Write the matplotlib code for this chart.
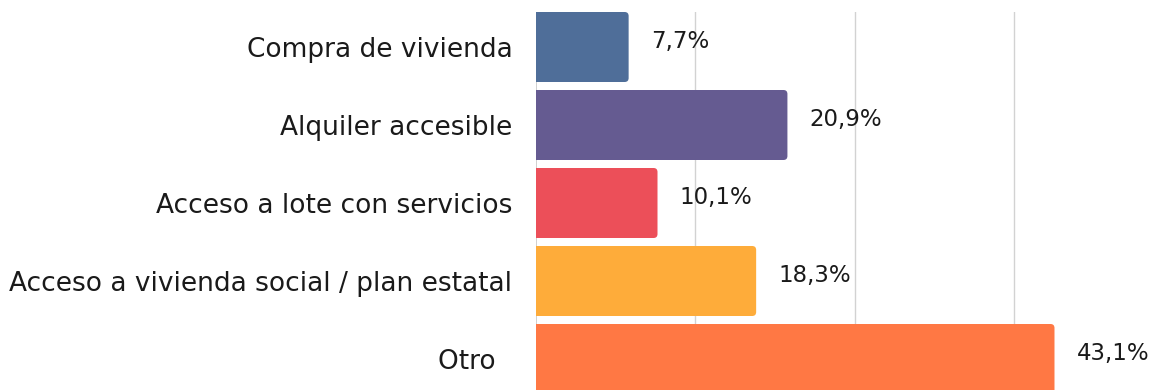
import matplotlib.pyplot as plt
from matplotlib.patches import FancyBboxPatch

plt.rcParams['font.family'] = ['DejaVu Sans']

categories = ['Compra de vivienda', 'Alquiler accesible', 'Acceso a lote con servicios',
              'Acceso a vivienda social / plan estatal', 'Otro  ']
values = [7.7, 20.9, 10.1, 18.3, 43.1]
labels = ['7,7%', '20,9%', '10,1%', '18,3%', '43,1%']
colors = ['#4F6E99', '#655B91', '#EC4F59', '#FEAC3A', '#FF7844']
grid_ticks = [13.25, 26.5, 39.75]

W, H = 1161, 390
fig = plt.figure(figsize=(W / 100, H / 100), dpi=100)
left_px, top_px = 536, 12
ax = fig.add_axes([left_px / W, 0, 1 - left_px / W, 1 - top_px / H])

px_per_unit = 12.03
ax.set_xlim(0, (W - left_px) / px_per_unit)
# bars are 78 px apart; the last one runs off the bottom edge
ax.set_ylim(4 + 31 / 78, -0.5 + 4 / 78)

bar_h = 70 / 78
r = 4 / px_per_unit          # corner radius in x units
aspect = (4 / 78) / r        # keeps corners round despite unequal scales
for i, (v, c) in enumerate(zip(values, colors)):
    box = FancyBboxPatch((-2, i - bar_h / 2), v + 2, bar_h,
                         boxstyle=f'round,pad=0,rounding_size={r}',
                         mutation_aspect=aspect, fc=c, ec='none', zorder=2)
    ax.add_patch(box)
    ax.annotate(labels[i], (v, i), xytext=(16, 4), textcoords='offset points',
                ha='left', va='center', fontsize=16.5, color='#1a1a1a',
                zorder=3, annotation_clip=False)

for g in grid_ticks:
    ax.axvline(g, color='#d2d2d2', lw=1, zorder=1)
ax.axvline(0, color='#c8c8c8', lw=1.2, zorder=1)

ax.set_yticks(range(len(categories)))
ax.set_yticklabels(categories, fontsize=19, color='#1a1a1a')
ax.tick_params(axis='y', length=0, pad=17)
ax.set_xticks([])
for s in ax.spines.values():
    s.set_visible(False)

fig.savefig('out.png', dpi=100)
